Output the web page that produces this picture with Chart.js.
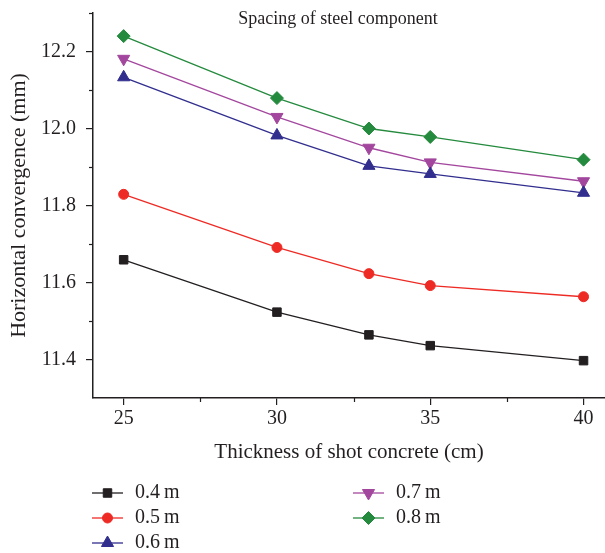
<!DOCTYPE html>
<html>
<head>
<meta charset="utf-8">
<script src="https://cdn.jsdelivr.net/npm/chart.js@4/dist/chart.umd.min.js"></script>
<style>
  html, body { margin: 0; padding: 0; background: #fff; overflow: hidden; }
  #wrap { width: 605px; height: 553px; position: relative; }
</style>
</head>
<body>
<div id="wrap"><canvas id="myChart"></canvas></div>
<script>
// data
var thickness = [25, 30, 33, 35, 40];
var s04 = [11.659, 11.523, 11.464, 11.436, 11.397];
var s05 = [11.829, 11.691, 11.623, 11.592, 11.563];
var s06 = [12.133, 11.982, 11.903, 11.882, 11.833];
var s07 = [12.181, 12.030, 11.950, 11.912, 11.863];
var s08 = [12.240, 12.079, 12.000, 11.978, 11.919];
var seriesLabels = ['0.4\u2009m', '0.5\u2009m', '0.6\u2009m', '0.7\u2009m', '0.8\u2009m'];

var xTicks = [25, 30, 35, 40];
var xMinorTicks = [27.5, 32.5, 37.5];
var yTicks = [11.4, 11.6, 11.8, 12.0, 12.2];
var yMinorTicks = [11.5, 11.7, 11.9, 12.1, 12.3];

var chartTitle = 'Spacing of steel component';
var xTitle = 'Thickness of shot concrete (cm)';
var yTitle = 'Horizontal convergence (mm)';

var textColor = '#231f20';
var serif = '"Liberation Serif", "DejaVu Serif", serif';

function pts(vals) {
  return thickness.map(function (x, i) { return { x: x, y: vals[i] }; });
}

function ds(label, vals, color, style, radius, rotation) {
  return {
    label: label,
    data: pts(vals),
    borderColor: color,
    backgroundColor: color,
    borderWidth: 1.3,
    pointStyle: style,
    pointRadius: radius,
    pointRotation: rotation || 0,
    pointBorderWidth: 1,
    pointBackgroundColor: color,
    pointBorderColor: color,
    tension: 0
  };
}

// title inside the plot, minor ticks, and a two column legend
var extras = {
  id: 'extras',
  afterDraw: function (chart) {
    var ctx = chart.ctx;
    var xs = chart.scales.x, ys = chart.scales.y;
    var area = chart.chartArea;
    ctx.save();
    ctx.strokeStyle = textColor;
    ctx.lineWidth = 1.2;
    xMinorTicks.forEach(function (v) {
      var px = Math.round(xs.getPixelForValue(v)) + 0.5;
      ctx.beginPath();
      ctx.moveTo(px, area.bottom);
      ctx.lineTo(px, area.bottom + 4);
      ctx.stroke();
    });
    yMinorTicks.forEach(function (v) {
      var py = Math.round(ys.getPixelForValue(v)) + 0.5;
      ctx.beginPath();
      ctx.moveTo(area.left - 4, py);
      ctx.lineTo(area.left, py);
      ctx.stroke();
    });

    ctx.fillStyle = textColor;
    ctx.font = '18px ' + serif;
    ctx.textAlign = 'center';
    ctx.textBaseline = 'middle';
    ctx.fillText(chartTitle, 338, 19);

    // legend
    var cols = [92, 353];
    var rows = [493, 518, 543];
    chart.data.datasets.forEach(function (d, i) {
      var cx = cols[i < 3 ? 0 : 1];
      var cy = rows[i < 3 ? i : i - 3];
      ctx.strokeStyle = d.borderColor;
      ctx.fillStyle = d.backgroundColor;
      ctx.lineWidth = 1.3;
      ctx.beginPath();
      ctx.moveTo(cx, cy);
      ctx.lineTo(cx + 31, cy);
      ctx.stroke();
      ctx.lineWidth = 1;
      Chart.helpers.drawPoint(ctx, {
        pointStyle: d.pointStyle,
        rotation: d.pointRotation,
        radius: d.pointRadius,
        borderWidth: 1
      }, cx + 15.5, cy);
      ctx.fillStyle = textColor;
      ctx.font = '20px ' + serif;
      ctx.textAlign = 'left';
      ctx.textBaseline = 'middle';
      ctx.fillText(d.label, cx + 43, cy);
    });
    ctx.restore();
  }
};

var ctx = document.getElementById('myChart').getContext('2d');
var chart = new Chart(ctx, {
  type: 'line',
  data: {
    datasets: [
      ds(seriesLabels[0], s04, '#231f20', 'rect', 6),
      ds(seriesLabels[1], s05, '#ee2a24', 'circle', 5),
      ds(seriesLabels[2], s06, '#312e8e', 'triangle', 7),
      ds(seriesLabels[3], s07, '#a3479e', 'triangle', 7, 180),
      ds(seriesLabels[4], s08, '#248a3d', 'rectRot', 6.5)
    ]
  },
  options: {
    responsive: true,
    maintainAspectRatio: false,
    animation: false,
    layout: { autoPadding: false, padding: { top: 13, right: 0, bottom: 85, left: 0 } },
    plugins: {
      legend: { display: false },
      tooltip: { enabled: false }
    },
    scales: {
      x: {
        type: 'linear',
        min: 24,
        max: 40.7,
        afterBuildTicks: function (s) { s.ticks = xTicks.map(function (v) { return { value: v }; }); },
        afterFit: function (s) { s.height = 70; },
        ticks: { color: textColor, font: { family: serif, size: 20 }, padding: 2, maxRotation: 0 },
        grid: { drawOnChartArea: false, drawTicks: true, tickLength: 7, color: textColor, lineWidth: 1.2 },
        border: { display: true, color: textColor, width: 1.5 },
        title: { display: true, text: xTitle, color: textColor, font: { family: serif, size: 21 }, padding: { top: 0, bottom: 3 } }
      },
      y: {
        min: 11.3,
        max: 12.3,
        afterBuildTicks: function (s) { s.ticks = yTicks.map(function (v) { return { value: v }; }); },
        afterFit: function (s) { s.width = 93; },
        ticks: {
          color: textColor, font: { family: serif, size: 20, lineHeight: 0.2 }, padding: 10,
          callback: function (v) { return v.toFixed(1); }
        },
        grid: { drawOnChartArea: false, drawTicks: true, tickLength: 7, color: textColor, lineWidth: 1.2 },
        border: { display: true, color: textColor, width: 1.5 },
        title: { display: true, text: yTitle, color: textColor, font: { family: serif, size: 22 }, padding: { top: 6, bottom: 0 } }
      }
    }
  },
  plugins: [extras]
});
</script>
</body>
</html>
